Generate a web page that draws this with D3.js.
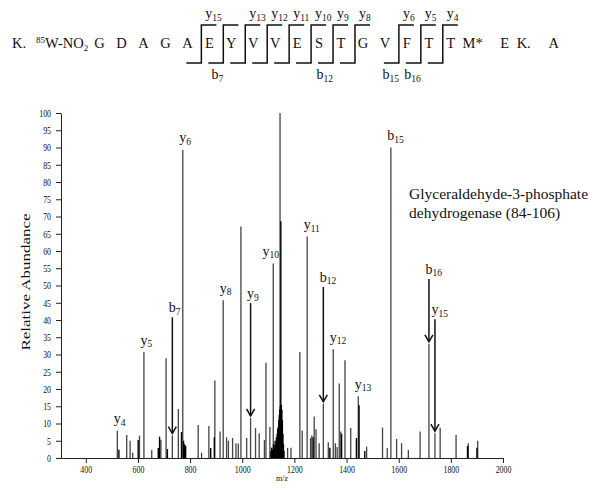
<!DOCTYPE html>
<html><head><meta charset="utf-8">
<script src="https://cdn.jsdelivr.net/npm/d3@7"></script>
<style>body{margin:0;background:#fff}svg{display:block}svg text{font-family:"Liberation Serif","Times New Roman",Times,serif}</style>
</head><body><svg id="c" width="591" height="488"></svg>
<script>
// ---------- data ----------
const mzMain = [521,557,570,580,606,623,653,688,708,732,755,772,831,844,872,895,915,927,940,947,963,976,985,995,1017,1032,1051,1065,1085,1091,1106,1119,1145,1174,1187,1221,1230,1249,1262,1267,1276,1283,1295,1311,1330,1349,1357,1364,1372,1378,1394,1416,1445,1477,1538,1556,1570,1592,1611,1637,1682,1716,1739,1759,1820,1867,1903];
const intMain = [7.9,6.7,5.0,1.5,6.5,30.7,2.3,5.3,28.9,6.5,14.2,89.3,9.6,1.5,9.3,22.5,7.7,45.7,6.0,5.0,5.8,4.3,4.2,67.1,5.8,11.6,8.7,7.2,5.2,27.6,9.0,56.4,100,2.9,3.0,30.7,8.0,64.2,5.8,6.5,12.0,8.3,4.3,15.7,4.6,31.5,4.3,3.2,21.6,7.7,28.3,8.7,17.9,3.3,8.8,2.9,90,5.5,4.3,2.3,7.7,33.1,7.2,8.8,6.7,4.3,5.0];
const mzDark = [527,601,678,683,713,767,775,779,783,879,893,1110,1113,1116,1120,1123,1126,1129,1131,1134,1136,1138,1140,1142,1144,1146,1148,1150,1152,1154,1156,1158,1160,1272,1336,1381,1438,1448,1470,1864,1900];
const intDark = [2.4,5.2,2.9,6.2,2.6,7.5,5,4,3.5,2.9,6,2,3,2.5,4,3.5,5,4,6,7,8.5,9,11,12.5,14,15,68.6,15.4,14,11,7,4,2,6,3,7,5.8,15.3,2,3.5,3];

const peakLabels = ["y4","y5","y6","y8","y10","y11","y12","y13","b15"];
const peakLabelMz = [521,623,772,927,1119,1249,1349,1445,1570];
const arrowLabels = ["b7","y9","b12","b16","y15"];
const arrowMz = [732,1032,1311,1716,1739];
const arrowFrom = [40.8,44.9,49.6,51.9,40.2];

const yTicks = [0,5,10,15,20,25,30,35,40,45,50,55,60,65,70,75,80,85,90,95,100];
const xTicks = [400,600,800,1000,1200,1400,1600,1800,2000];

const seqPrefix = ["K.", "85", "W-NO", "2"];
const residues = ["G","D","A","G","A","E","Y","V","V","E","S","T","G","V","F","T","T","M*"];
const seqSuffix = ["E","K.","A"];
const yIons = [15,13,12,11,10,9,8,6,5,4];
const bIons = [7,12,15,16];
const peptideLength = 21;
const titleLines = ["Glyceraldehyde-3-phosphate","dehydrogenase (84-106)"];
const yLabel = "Relative Abundance";
const xLabel = "m/z";

// ---------- drawing ----------
const svg = d3.select("#c");
const ink = "#111";
const x = d3.scaleLinear().domain([305, 2000]).range([61, 503]);
const y = d3.scaleLinear().domain([0, 100]).range([458, 113]);

// y axis minor + major
const yMinor = d3.range(0, 101, 1);
const gy = svg.append("g").attr("transform", "translate(61,0)");
gy.call(d3.axisLeft(y).tickValues(yMinor).tickSize(3).tickFormat("").tickSizeOuter(0));
gy.call(d3.axisLeft(y).tickValues(yTicks).tickSize(5).tickPadding(5).tickFormat(d3.format("d")).tickSizeOuter(0));
gy.selectAll("path,line").attr("stroke", "#222").attr("stroke-width", 1);
gy.selectAll("text").attr("font-size", "10.5px").attr("fill", ink);

// x axis
const xMinor = d3.range(350, 2001, 50);
const gx = svg.append("g").attr("transform", "translate(0,458)");
gx.call(d3.axisBottom(x).tickValues(xMinor).tickSize(3).tickFormat("").tickSizeOuter(0));
gx.call(d3.axisBottom(x).tickValues(xTicks).tickSize(5).tickPadding(3).tickFormat(d3.format("d")).tickSizeOuter(0));
gx.selectAll("path,line").attr("stroke", "#222").attr("stroke-width", 1);
gx.selectAll("text").attr("font-size", "10.5px").attr("fill", ink);
svg.selectAll("g").attr("font-family", null);

// compress tick labels horizontally
svg.selectAll(".tick text").each(function () {
  const w = this.getComputedTextLength();
  if (w > 0) { this.setAttribute("textLength", w * 0.75); this.setAttribute("lengthAdjust", "spacingAndGlyphs"); }
});

// peaks
svg.append("g").selectAll("line").data(mzMain.map((m, i) => [m, intMain[i]])).join("line")
  .attr("x1", d => x(d[0])).attr("x2", d => x(d[0]))
  .attr("y1", y(0)).attr("y2", d => y(d[1]))
  .attr("stroke", "#444").attr("stroke-width", 1.3);
svg.append("g").selectAll("line").data(mzDark.map((m, i) => [m, intDark[i]])).join("line")
  .attr("x1", d => x(d[0])).attr("x2", d => x(d[0]))
  .attr("y1", y(0)).attr("y2", d => y(d[1]))
  .attr("stroke", "#000").attr("stroke-width", 1.4);

function ionLabel(g, name, px, py, anchor) {
  const t = g.append("text").attr("x", px).attr("y", py).attr("text-anchor", anchor || "start")
    .attr("font-size", "14px").attr("fill", ink);
  t.append("tspan").text(name[0]);
  t.append("tspan").attr("dy", 2.5).attr("font-size", "9.5px").text(name.slice(1));
  return t;
}

const lab = svg.append("g");
peakLabels.forEach((n, i) => {
  const m = peakLabelMz[i];
  const v = intMain[mzMain.indexOf(m)];
  if (n === "y10") ionLabel(lab, n, x(m) - 2.5, y(v) - 7.5, "middle");
  else ionLabel(lab, n, x(m) - 3.5, y(v) - 7.5);
});

// arrows
arrowLabels.forEach((n, i) => {
  const m = arrowMz[i];
  const v = intMain[mzMain.indexOf(m)];
  const px = x(m), ys = y(arrowFrom[i]), ye = y(v) - 2;
  lab.append("line").attr("x1", px).attr("x2", px).attr("y1", ys).attr("y2", ye)
    .attr("stroke", "#111").attr("stroke-width", 1.5);
  lab.append("path").attr("d", `M${px - 4},${ye - 7}L${px},${ye}L${px + 4},${ye - 7}`)
    .attr("fill", "none").attr("stroke", "#111").attr("stroke-width", 1.5);
  ionLabel(lab, n, px - 3.5, ys - 5);
});

// title annotation
const tt = svg.append("text").attr("font-size", "15.5px").attr("fill", ink);
titleLines.forEach((l, i) => tt.append("tspan").attr("x", 409).attr("y", 199 + i * 18.5).text(l));

// axis labels
svg.append("text").attr("transform", "translate(30,282) scale(0.7,1) rotate(-90)")
  .attr("text-anchor", "middle").attr("font-size", "17px").attr("fill", ink)
  .text(yLabel);
svg.append("text").attr("x", 282).attr("y", 481).attr("text-anchor", "middle")
  .attr("font-size", "8px").attr("fill", ink).text(xLabel);

// ---------- sequence ----------
const seq = svg.append("g").attr("fill", ink);
const xs = d3.scalePoint().domain(d3.range(residues.length)).range([99.6, 472.7]);
const baseY = 48;
const seqFont = "14.5px";
seq.append("text").attr("x", 19).attr("y", baseY).attr("text-anchor", "middle").attr("font-size", seqFont).text(seqPrefix[0]);
const wt = seq.append("text").attr("x", 36).attr("y", baseY).attr("font-size", seqFont);
wt.append("tspan").attr("font-size", "9px").attr("dy", -5).text(seqPrefix[1]);
wt.append("tspan").attr("dy", 5).text(seqPrefix[2]);
wt.append("tspan").attr("font-size", "9px").attr("dy", 3).text(seqPrefix[3]);
residues.forEach((r, i) => seq.append("text").attr("x", xs(i)).attr("y", baseY)
  .attr("text-anchor", "middle").attr("font-size", seqFont).text(r));
const mEnd = xs(residues.length - 1);
[32, 51, 81].forEach((off, i) => seq.append("text").attr("x", mEnd + off).attr("y", baseY)
  .attr("text-anchor", "middle").attr("font-size", seqFont).text(seqSuffix[i]));

// cleavage brackets: after residue k (1-based, W = 1)
const cleave = Array.from(new Set([...yIons.map(n => peptideLength - n), ...bIons])).sort((a, b) => a - b);
const vx = k => (xs(k - 2) + xs(k - 1)) / 2 + 3;
const topY = 25, botY = 63;
cleave.forEach(k => {
  const cx = vx(k);
  seq.append("path").attr("d", `M${cx - 15},${botY}H${cx}V${topY}H${cx + 15}`)
    .attr("fill", "none").attr("stroke", "#111").attr("stroke-width", 1.5);
});
yIons.forEach(n => ionLabel(seq, "y" + n, vx(peptideLength - n) + 4, 18));
bIons.forEach(n => ionLabel(seq, "b" + n, vx(n), 79, "end"));
</script></body></html>
